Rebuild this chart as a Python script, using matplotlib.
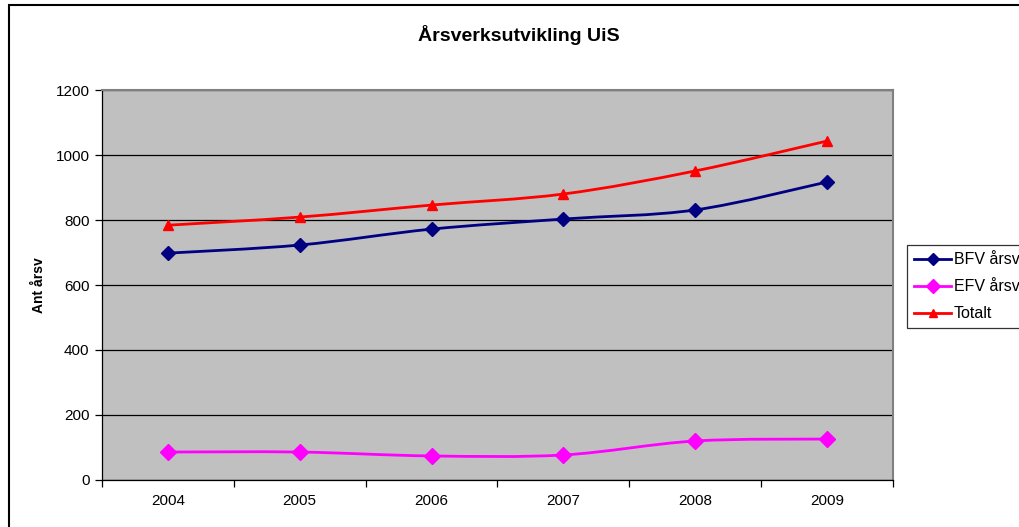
import numpy as np
import matplotlib.pyplot as plt
from matplotlib.path import Path
from matplotlib.patches import PathPatch, Rectangle
from matplotlib.lines import Line2D

plt.rcParams['font.family'] = ['Liberation Sans', 'DejaVu Sans']

years = ['2004', '2005', '2006', '2007', '2008', '2009']
bfv = [698, 723, 772, 803, 831, 917]
efv = [86, 86, 74, 77, 120, 126]
totalt = [784, 809, 846, 880, 951, 1043]


def smooth_path(xs, ys):
    # Excel-style smoothed line: cubic Bezier segments through every point
    pts = np.column_stack([xs, ys]).astype(float)
    verts = [pts[0]]
    codes = [Path.MOVETO]
    t = 1 / 6
    for i in range(len(pts) - 1):
        p0 = pts[max(i - 1, 0)]
        p1 = pts[i]
        p2 = pts[i + 1]
        p3 = pts[min(i + 2, len(pts) - 1)]
        c1 = p1 + (p2 - p0) * t
        c2 = p2 - (p3 - p1) * t
        verts += [c1, c2, p2]
        codes += [Path.CURVE4] * 3
    return Path(verts, codes)


fig = plt.figure(figsize=(10.19, 5.27), dpi=100)
ax = fig.add_axes([0.1001, 0.0892, 0.7762, 0.74])
ax.set_facecolor('#C0C0C0')

x = np.arange(len(years))
series = [
    ('BFV årsverk', bfv, '#000080', 'D', 7),
    ('EFV årsverk', efv, '#FF00FF', 'D', 8),
    ('Totalt', totalt, '#FF0000', '^', 7),
]
handles = []
for name, vals, col, mk, ms in series:
    ax.add_patch(PathPatch(smooth_path(x, vals), facecolor='none',
                           edgecolor=col, lw=2, zorder=3))
    ax.plot(x, vals, ls='none', marker=mk, ms=ms, color=col, zorder=4)
    handles.append(Line2D([], [], color=col, lw=2, marker=mk, ms=ms - 1))

ax.set_xlim(-0.5, 5.5)
ax.set_ylim(0, 1200)
ax.set_yticks(range(0, 1201, 200))
ax.yaxis.grid(True, color='black', lw=0.9)
ax.set_axisbelow(True)

ax.set_xticks(x)
ax.set_xticklabels(years)
ax.set_xticks(np.arange(-0.5, 6, 1), minor=True)
ax.tick_params(axis='x', which='major', length=0, pad=10, labelsize=11)
ax.tick_params(axis='x', which='minor', length=5, direction='out', width=0.9)
ax.tick_params(axis='y', length=5, direction='out', width=0.9, labelsize=11, pad=4)

for side in ['top', 'right']:
    ax.spines[side].set_color('#808080')
    ax.spines[side].set_linewidth(1.5)
for side in ['left', 'bottom']:
    ax.spines[side].set_color('black')
    ax.spines[side].set_linewidth(0.9)

ax.set_ylabel('Ant årsv', fontsize=10, fontweight='bold', labelpad=7)
fig.text(0.5095, 0.933, 'Årsverksutvikling UiS', ha='center', va='center',
         fontsize=14, fontweight='bold')

leg = fig.legend(handles, [s[0] for s in series], loc='upper left',
                 bbox_to_anchor=(907 / 1019, 1 - 245 / 527), fontsize=11.5,
                 frameon=True, fancybox=False, handlelength=2.3,
                 handletextpad=0.2, borderpad=0.45, labelspacing=0.75,
                 borderaxespad=0)
leg.get_frame().set_edgecolor('black')
leg.get_frame().set_linewidth(0.9)

# chart frame
fig.patches.append(Rectangle((9 / 1019, -0.1), 1.2, 1 - 5 / 527 + 0.1,
                             transform=fig.transFigure, fill=False,
                             edgecolor='black', lw=1.5, clip_on=False))

fig.savefig('out.png', dpi=100)
